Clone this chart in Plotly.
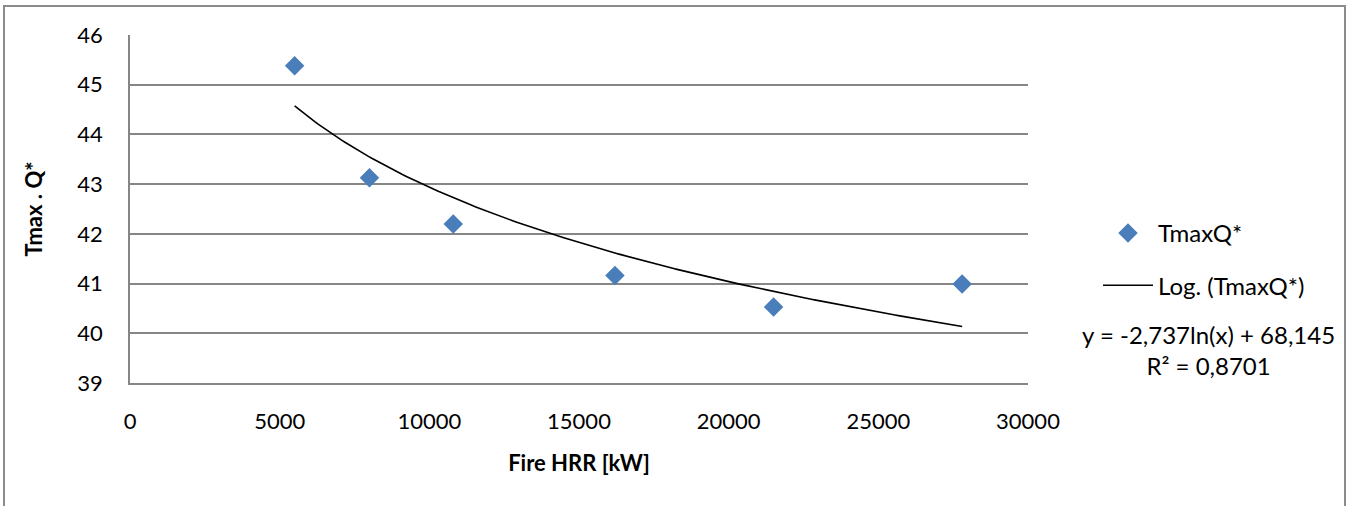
import numpy as np
import plotly.graph_objects as go

# Data
fire_hrr = [5500, 8000, 10800, 16200, 21500, 27800]
tmax_q = [45.38, 43.13, 42.20, 41.16, 40.53, 40.99]
series_name = "TmaxQ*"
trend_name = "Log. (TmaxQ*)"
# Logarithmic trendline coefficients (as printed on chart)
coef_a = -2.737
coef_b = 68.145
eq_text = "y = -2,737ln(x) + 68,145"
r2_text = "R² = 0,8701"

FONT = "Lato"
FS = 22
FS_LEG = 24

trend_x = np.linspace(min(fire_hrr), max(fire_hrr), 200)
trend_y = coef_a * np.log(trend_x) + coef_b

fig = go.Figure()
fig.add_trace(go.Scatter(
    x=fire_hrr, y=tmax_q, mode="markers", name=series_name, legendgroup="a",
    marker=dict(symbol="diamond", size=15, color="#4A7EBB", line=dict(width=0)),
))
fig.add_trace(go.Scatter(
    x=trend_x, y=trend_y, mode="lines", name=trend_name, legendgroup="b",
    line=dict(color="black", width=1.6),
))

L, R, T, B = 130, 323, 35, 123
W, H = 1351, 506
pw, ph = W - L - R, H - T - B

fig.update_layout(
    width=W, height=H,
    margin=dict(l=L, r=R, t=T, b=B),
    paper_bgcolor="white", plot_bgcolor="white",
    font=dict(family=FONT, size=FS, color="black"),
    showlegend=True,
    legend=dict(
        x=(1098 - L) / pw, y=(383 - 211) / ph, xanchor="left", yanchor="top",
        font=dict(family=FONT, size=FS_LEG, color="black"),
        itemwidth=50, tracegroupgap=18, traceorder="grouped",
        bgcolor="rgba(0,0,0,0)",
    ),
    xaxis=dict(
        range=[0, 30000], dtick=5000, tick0=0, showgrid=False, tickformat="d",
        showline=True, linecolor="#868686", linewidth=1.5,
        ticks="", tickfont=dict(family=FONT, size=FS), ticklabelstandoff=18,
        title=dict(text="<b>Fire HRR [kW]</b>", font=dict(family=FONT, size=FS), standoff=22),
        zeroline=False,
    ),
    yaxis=dict(
        range=[39, 46], dtick=1, tick0=39, showgrid=True,
        gridcolor="#868686", gridwidth=1.5,
        showline=True, linecolor="#868686", linewidth=1.5,
        ticks="", tickfont=dict(family=FONT, size=FS), ticklabelstandoff=21,
        title=dict(text="<b>Tmax . Q*</b>", font=dict(family=FONT, size=FS), standoff=29),
        zeroline=False,
    ),
    annotations=[
        dict(text=eq_text + "<br>" + r2_text, xref="paper", yref="paper",
             x=(1208 - L) / pw, y=(383 - 350) / ph, xanchor="center", yanchor="middle",
             showarrow=False, align="center",
             font=dict(family=FONT, size=FS_LEG, color="black")),
    ],
    shapes=[
        dict(type="rect", xref="paper", yref="paper",
             x0=(4 - L) / pw, x1=(1345 - L) / pw,
             y0=(383 - 515) / ph, y1=(383 - 6) / ph,
             line=dict(color="#8C8C8C", width=2), fillcolor="rgba(0,0,0,0)", layer="below"),
    ],
)

fig.write_html("out.html")
